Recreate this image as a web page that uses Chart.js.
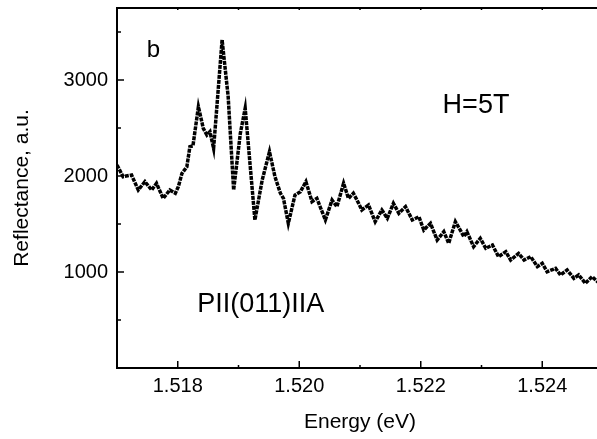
<!DOCTYPE html>
<html>
<head>
<meta charset="utf-8">
<script src="https://cdn.jsdelivr.net/npm/chart.js@4/dist/chart.umd.min.js"></script>
<style>
  html, body { margin: 0; padding: 0; background: #fff; overflow: hidden; }
  #wrap { width: 610px; height: 439px; }
</style>
</head>
<body>
<div id="wrap"><canvas id="specChart"></canvas></div>
<script>
// spectrum
var energy = [
    1.51700, 1.51710, 1.51724, 1.51735, 1.51746, 1.51757, 1.51765, 1.51776, 1.51787, 1.51796,
    1.51801, 1.51807, 1.51815, 1.51820, 1.51825, 1.51834, 1.51842, 1.51848, 1.51853, 1.51859,
    1.51873, 1.51883, 1.51892, 1.51903, 1.51911, 1.51927, 1.51939, 1.51951, 1.51960, 1.51969,
    1.51974, 1.51982, 1.51993, 1.52002, 1.52011, 1.52021, 1.52029, 1.52043, 1.52054, 1.52062,
    1.52073, 1.52081, 1.52089, 1.52095, 1.52103, 1.52114, 1.52125, 1.52136, 1.52145, 1.52155,
    1.52164, 1.52175, 1.52186, 1.52197, 1.52205, 1.52216, 1.52227, 1.52238, 1.52246, 1.52257,
    1.52265, 1.52271, 1.52276, 1.52287, 1.52298, 1.52307, 1.52318, 1.52328, 1.52340, 1.52348,
    1.52361, 1.52370, 1.52381, 1.52392, 1.52400, 1.52408, 1.52422, 1.52430, 1.52441, 1.52452,
    1.52460, 1.52471, 1.52482, 1.52491, 1.52500
];
var reflectance = [
    2115, 1993, 2010, 1854, 1941, 1854, 1924, 1767, 1854, 1820,
    1889, 2028, 2097, 2306, 2313, 2722, 2497, 2427, 2462, 2288,
    3417, 2826, 1854, 2444, 2705, 1542, 1958, 2253, 1993, 1820,
    1767, 1507, 1802, 1837, 1941, 1733, 1767, 1542, 1750, 1680,
    1924, 1767, 1820, 1750, 1646, 1698, 1524, 1646, 1559, 1715,
    1611, 1680, 1542, 1576, 1437, 1507, 1333, 1420, 1299, 1524,
    1437, 1368, 1420, 1264, 1351, 1247, 1281, 1160, 1212, 1125,
    1194, 1125, 1160, 1056, 1090, 1003, 1038, 969, 1021, 934,
    969, 882, 951, 899, 880
];
var xTicks = [1.517, 1.518, 1.519, 1.520, 1.521, 1.522, 1.523, 1.524, 1.525];
var xTickLabels = [1.518, 1.520, 1.522, 1.524];
var yTicks = [500, 1000, 1500, 2000, 2500, 3000, 3500];
var yTickLabels = [1000, 2000, 3000];

// text notes: [text, energy, reflectance, font size]
var notes = [
    ['b', 1.51749, 3240, 24],
    ['H=5T', 1.52236, 2656, 27],
    ['PII(011)IIA', 1.51832, 583, 27]
];

var points = energy.map(function (e, i) { return { x: e, y: reflectance[i] }; });

function isLabel(list, v) {
    return list.some(function (t) { return Math.abs(t - v) < 1e-7; });
}

// frame, inward ticks and notes
var framePlugin = {
    id: 'frame',
    afterDraw: function (chart) {
        var ctx = chart.ctx;
        var a = chart.chartArea;
        var xs = chart.scales.x, ys = chart.scales.y;
        ctx.save();
        ctx.setLineDash([]);
        ctx.strokeStyle = '#000';
        ctx.lineWidth = 2;
        ctx.strokeRect(a.left, a.top, a.right - a.left, a.bottom - a.top);
        ctx.lineWidth = 1.5;
        xTicks.forEach(function (v) {
            var px = xs.getPixelForValue(v);
            var len = isLabel(xTickLabels, v) ? 7 : 3;
            ctx.beginPath();
            ctx.moveTo(px, a.bottom); ctx.lineTo(px, a.bottom - len);
            ctx.moveTo(px, a.top); ctx.lineTo(px, a.top + 2);
            ctx.stroke();
        });
        yTicks.forEach(function (v) {
            var py = ys.getPixelForValue(v);
            ctx.beginPath();
            ctx.moveTo(a.left, py); ctx.lineTo(a.left + (isLabel(yTickLabels, v) ? 7 : 4), py);
            ctx.stroke();
        });
        ctx.fillStyle = '#000';
        ctx.textBaseline = 'alphabetic';
        ctx.textAlign = 'left';
        notes.forEach(function (n) {
            ctx.font = n[3] + 'px "Liberation Sans", Arial, sans-serif';
            ctx.fillText(n[0], xs.getPixelForValue(n[1]), ys.getPixelForValue(n[2]));
        });
        ctx.restore();
    }
};

Chart.defaults.font.family = '"Liberation Sans", Arial, sans-serif';
Chart.defaults.color = '#000';

var specChart = new Chart(document.getElementById('specChart'), {
    type: 'line',
    data: {
        datasets: [{
            data: points,
            borderColor: '#000',
            borderWidth: 3.5,
            borderDash: [4, 1],
            pointRadius: 0,
            tension: 0,
            fill: false
        }]
    },
    options: {
        responsive: true,
        maintainAspectRatio: false,
        animation: false,
        layout: { padding: { top: 8, right: 7, left: 0, bottom: 0 } },
        plugins: {
            legend: { display: false },
            tooltip: { enabled: false }
        },
        scales: {
            x: {
                type: 'linear',
                min: 1.517,
                max: 1.525,
                grid: { display: false, drawTicks: false },
                border: { display: false },
                afterBuildTicks: function (s) {
                    s.ticks = xTicks.map(function (v) { return { value: v }; });
                },
                afterFit: function (s) {
                    s.height = 71;
                    s.paddingLeft = 0;
                    s.paddingRight = 0;
                },
                ticks: {
                    autoSkip: false,
                    maxRotation: 0,
                    padding: 6,
                    font: { size: 20 },
                    callback: function (v) {
                        return isLabel(xTickLabels, v) ? v.toFixed(3) : '';
                    }
                },
                title: {
                    display: true,
                    text: 'Energy (eV)',
                    font: { size: 21 },
                    padding: { top: 4, bottom: 4 }
                }
            },
            y: {
                min: 0,
                max: 3750,
                grid: { display: false, drawTicks: false },
                border: { display: false },
                afterBuildTicks: function (s) {
                    s.ticks = yTicks.map(function (v) { return { value: v }; });
                },
                afterFit: function (s) {
                    s.width = 117;
                    s.paddingTop = 0;
                    s.paddingBottom = 0;
                },
                ticks: {
                    autoSkip: false,
                    padding: 9,
                    font: { size: 20 },
                    callback: function (v) {
                        return isLabel(yTickLabels, v) ? String(v) : '';
                    }
                },
                title: {
                    display: true,
                    text: 'Reflectance, a.u.',
                    font: { size: 21 },
                    padding: { top: 10, bottom: 0 }
                }
            }
        }
    },
    plugins: [framePlugin]
});
</script>
</body>
</html>
